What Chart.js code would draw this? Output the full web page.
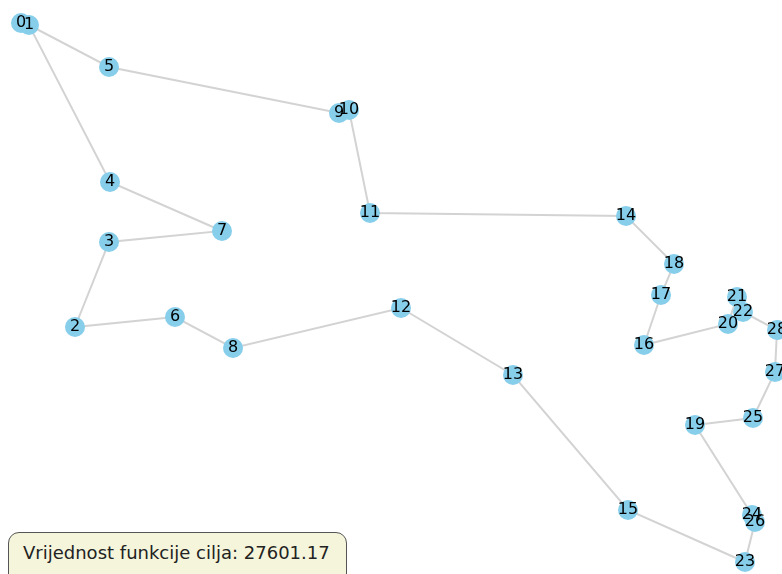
<!DOCTYPE html>
<html>
<head>
<meta charset="utf-8">
<script src="https://cdn.jsdelivr.net/npm/chart.js@4/dist/chart.umd.min.js"></script>
<style>
  body { margin: 0; background: #fff; }
  #wrap { position: relative; width: 782px; height: 574px; overflow: hidden; }
  #info {
    position: absolute; left: 8px; top: 532px; width: 339px; height: 54px;
    box-sizing: border-box; border: 1px solid #555; border-radius: 11px;
    background: #f5f5dc; font-family: "DejaVu Sans", sans-serif; font-size: 18px;
    color: #222; padding: 9px 0 0 14px; white-space: nowrap;
  }
</style>
</head>
<body>
<div id="wrap">
  <canvas id="graf" width="782" height="574"></canvas>
  <div id="info">Vrijednost funkcije cilja: 27601.17</div>
</div>
<script>
// cvorovi (koordinate ocitane sa slike)
const nodeIds = [0, 1, 2, 3, 4, 5, 6, 7, 8, 9, 10, 11, 12, 13, 14, 15, 16, 17, 18, 19, 20, 21, 22, 23, 24, 25, 26, 27, 28];
const nodeX = [21, 29, 75, 109, 110, 109, 175, 222, 233, 339, 349, 370, 401, 513, 626, 628, 644, 661, 674, 695, 728, 737, 743, 745, 752, 753, 755, 775, 777];
const nodeY = [23, 25, 327, 242, 182, 67, 317, 231, 348, 113, 110, 213, 308, 375, 216, 510, 345, 295, 264, 425, 324, 297, 312, 562, 515, 418, 522, 372, 330];
// redoslijed obilaska
const tour = [0, 1, 5, 9, 10, 11, 14, 18, 17, 16, 20, 21, 22, 28, 27, 25, 19, 24, 26, 23, 15, 13, 12, 8, 6, 2, 3, 7, 4, 1, 0];

const points = nodeIds.map((id, i) => ({ x: nodeX[i], y: nodeY[i], id: id }));
const route = tour.map(id => ({ x: nodeX[id], y: nodeY[id] }));

const labelPlugin = {
    id: "nodeLabels",
    afterDatasetsDraw(chart) {
        const ctx = chart.ctx;
        const meta = chart.getDatasetMeta(0);
        ctx.save();
        ctx.font = "16px 'DejaVu Sans'";
        ctx.fillStyle = "#000";
        ctx.textAlign = "center";
        ctx.textBaseline = "middle";
        meta.data.forEach((el, i) => {
            ctx.fillText(String(points[i].id), el.x, el.y);
        });
        ctx.restore();
    }
};

new Chart(document.getElementById("graf"), {
    type: "scatter",
    data: {
        datasets: [{
            data: points,
            pointRadius: 10,
            pointHoverRadius: 10,
            pointBackgroundColor: "#87ceeb",
            pointBorderWidth: 0,
            showLine: false
        }, {
            data: route,
            showLine: true,
            borderColor: "#d3d3d3",
            borderWidth: 2,
            pointRadius: 0,
            fill: false
        }]
    },
    options: {
        responsive: false,
        animation: false,
        layout: { padding: 0, autoPadding: false },
        plugins: { legend: { display: false }, tooltip: { enabled: false } },
        scales: {
            x: { type: "linear", display: false, min: 0, max: 782 },
            y: { type: "linear", display: false, min: 0, max: 574, reverse: true }
        }
    },
    plugins: [labelPlugin]
});
</script>
</body>
</html>
